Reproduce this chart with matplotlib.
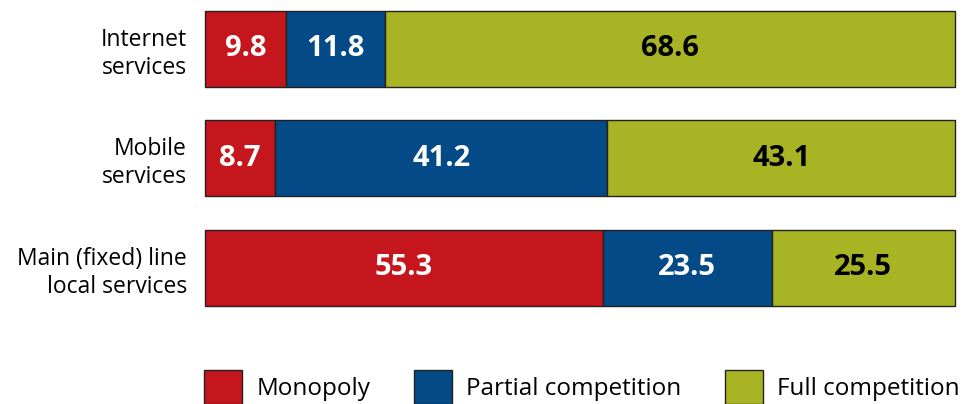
import numpy as np
import matplotlib
matplotlib.use('Agg')
from matplotlib import pyplot as plt
from matplotlib.patches import Patch

# data
categories = ['Internet\nservices', 'Mobile\nservices', 'Main (fixed) line\nlocal services']
monopoly = [9.8, 8.7, 55.3]
partial = [11.8, 41.2, 23.5]
full = [68.6, 43.1, 25.5]
series_names = ['Monopoly', 'Partial competition', 'Full competition']

colors = ['#C4161C', '#034A86', '#A8B423']
text_colors = ['white', 'white', 'black']

plt.rcParams['font.family'] = ['Open Sans', 'DejaVu Sans']

W, H = 964, 404
fig = plt.figure(figsize=(W / 100, H / 100), dpi=100)
ax = fig.add_axes([205 / W, 1 - 320 / H, 750 / W, 320 / H])

values = np.array([monopoly, partial, full])
totals = values.sum(axis=0)
shares = values / totals * 100  # each bar fills the full width

y = np.arange(len(categories))
left = np.zeros(len(categories))
for i, name in enumerate(series_names):
    bars = ax.barh(y, shares[i], left=left, height=0.694, color=colors[i],
                   edgecolor='#222222', linewidth=1.0, label=name)
    for b in bars:
        b.set_clip_on(False)
    for j in range(len(categories)):
        ax.text(left[j] + shares[i][j] / 2, y[j], '{:.1f}'.format(values[i][j]),
                ha='center', va='center', fontsize=21, fontweight='bold',
                color=text_colors[i])
    left += shares[i]

ax.set_xlim(0, 100)
ax.set_ylim(2.475, -0.447)
ax.set_yticks(y)
ax.set_yticklabels(categories, fontsize=16.5, ha='right')
ax.tick_params(axis='y', length=0, pad=13)
ax.set_xticks([])
for s in ax.spines.values():
    s.set_visible(False)

handles = [Patch(facecolor=c, edgecolor='#222222', linewidth=1.0) for c in colors]
fig.legend(handles, series_names, loc='center left',
           bbox_to_anchor=(204 / W, 1 - 387 / H), ncol=3, frameon=False,
           fontsize=17.5, handlelength=1.55, handleheight=1.8,
           handletextpad=0.6, columnspacing=1.8, borderpad=0, borderaxespad=0)

fig.savefig('out.png', dpi=100)
plt.close()
